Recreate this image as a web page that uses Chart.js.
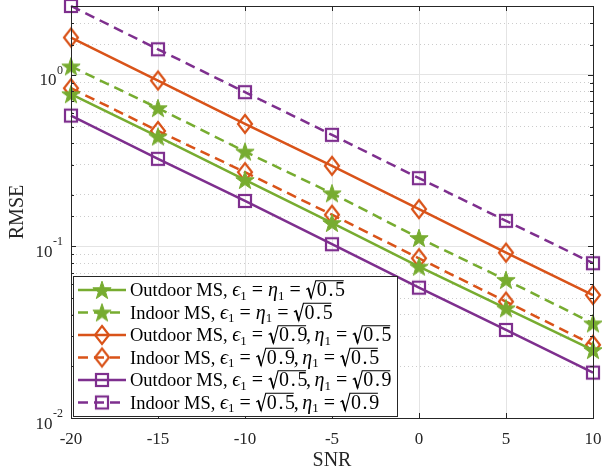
<!DOCTYPE html>
<html><head><meta charset="utf-8">
<script src="https://cdn.jsdelivr.net/npm/chart.js@4"></script>
<style>html,body{margin:0;padding:0;background:#fff}#wrap{width:602px;height:476px}</style>
</head><body><div id="wrap"><canvas id="c" width="602" height="476"></canvas></div>
<script>
// ---- data ----
const snr = [-20, -15, -10, -5, 0, 5, 10];
const outdoorA = [0.771, 0.437, 0.244, 0.137, 0.0762, 0.0436, 0.0249]; // eps=eta=sqrt0.5
const indoorA  = [1.12, 0.64, 0.357, 0.204, 0.112, 0.0638, 0.0356];
const outdoorB = [1.65, 0.927, 0.518, 0.295, 0.165, 0.092, 0.0521];   // eps=sqrt0.9, eta=sqrt0.5
const indoorB  = [0.836, 0.471, 0.271, 0.153, 0.0853, 0.0477, 0.0267];
const outdoorC = [0.579, 0.324, 0.184, 0.103, 0.0575, 0.0326, 0.0184]; // eps=sqrt0.5, eta=sqrt0.9
const indoorC  = [2.52, 1.41, 0.793, 0.447, 0.25, 0.141, 0.0798];
const xTicks = [-20, -15, -10, -5, 0, 5, 10];
const yMajor = [0.01, 0.1, 1];
const yExponents = ['-2', '-1', '0'];

const GREEN = '#77AC30', ORANGE = '#D95319', PURPLE = '#7E2F8E';
const FAM = "'Liberation Serif', 'Times New Roman', serif";
const AX = '#262626';

function makeStar(color){const c=document.createElement('canvas');c.width=24;c.height=24;const g=c.getContext('2d');g.beginPath();for(let k=0;k<10;k++){const r=k%2?3.8:9.6;const a=-Math.PI/2+k*Math.PI/5;g.lineTo(12+r*Math.cos(a),12.8+r*Math.sin(a));}g.closePath();g.fillStyle=color;g.fill();g.strokeStyle=color;g.lineWidth=1;g.lineJoin='miter';g.stroke();return c;}
function makeDiamond(color){const c=document.createElement('canvas');c.width=20;c.height=24;const g=c.getContext('2d');g.beginPath();g.moveTo(10,3);g.lineTo(17,12);g.lineTo(10,21);g.lineTo(3,12);g.closePath();g.strokeStyle=color;g.lineWidth=2.2;g.stroke();return c;}
function makeSquare(color){const c=document.createElement('canvas');c.width=18;c.height=18;const g=c.getContext('2d');g.strokeStyle=color;g.lineWidth=2.2;g.strokeRect(3,3,12,12);return c;}
const star = makeStar(GREEN), diamond = makeDiamond(ORANGE), square = makeSquare(PURPLE);

const DASH = [10, 6];
const LW = 2.5;
function ds(label, vals, color, marker, dashed){
  return {label, data: snr.map((x,i)=>({x, y: vals[i]})), borderColor: color, backgroundColor: color,
    borderWidth: LW, borderDash: dashed ? DASH : [], pointStyle: marker, pointRadius: 8,
    tension: 0, clip: 12, _marker: marker, _dashed: dashed};
}
const datasets = [
  ds('Outdoor A', outdoorA, GREEN, star, false),
  ds('Indoor A', indoorA, GREEN, star, true),
  ds('Outdoor B', outdoorB, ORANGE, diamond, false),
  ds('Indoor B', indoorB, ORANGE, diamond, true),
  ds('Outdoor C', outdoorC, PURPLE, square, false),
  ds('Indoor C', indoorC, PURPLE, square, true)
];

// legend rich text (m: math size)
const G = {gap: 5};
const E = {t:'ϵ', i:1, m:1}, H = {t:'η', i:1, m:1}, S1 = {t:'1', sub:1}, EQ = {t:'=', m:1}, CM = {t:',', m:1}, TH = {gap: 3.5};
const legendTexts = [
  [{t:'Outdoor MS, '}, E, S1, G, EQ, G, H, S1, G, EQ, G, {sqrt:'0.5'}],
  [{t:'Indoor MS, '}, E, S1, G, EQ, G, H, S1, G, EQ, G, {sqrt:'0.5'}],
  [{t:'Outdoor MS, '}, E, S1, G, EQ, G, {sqrt:'0.9'}, CM, TH, H, S1, G, EQ, G, {sqrt:'0.5'}],
  [{t:'Indoor MS, '}, E, S1, G, EQ, G, {sqrt:'0.9'}, CM, TH, H, S1, G, EQ, G, {sqrt:'0.5'}],
  [{t:'Outdoor MS, '}, E, S1, G, EQ, G, {sqrt:'0.5'}, CM, TH, H, S1, G, EQ, G, {sqrt:'0.9'}],
  [{t:'Indoor MS, '}, E, S1, G, EQ, G, {sqrt:'0.5'}, CM, TH, H, S1, G, EQ, G, {sqrt:'0.9'}]
];

function drawRich(ctx, x, y, segs, f, fm){
  ctx.fillStyle = '#000'; ctx.strokeStyle = '#000'; ctx.textBaseline = 'alphabetic'; ctx.textAlign = 'left';
  for (const s of segs){
    if (s.gap){ x += s.gap; continue; }
    if (s.sqrt){
      ctx.font = fm + 'px ' + FAM;
      const w = ctx.measureText(s.sqrt).width + 2;
      const r0 = 10; // radical width
      ctx.lineWidth = 1.1;
      ctx.beginPath();
      ctx.moveTo(x + 0.5, y - 6.5);
      ctx.lineTo(x + 2.6, y - 7.8);
      ctx.lineTo(x + 5.4, y + 2.2);
      ctx.lineTo(x + r0, y - 15.2);
      ctx.lineTo(x + r0 + w + 1, y - 15.2);
      ctx.stroke();
      ctx.lineWidth = 1.7;
      ctx.beginPath(); ctx.moveTo(x + 2.6, y - 7.8); ctx.lineTo(x + 5.4, y + 2.2); ctx.stroke();
      ctx.fillText(s.sqrt.split('').join(String.fromCharCode(8202)), x + r0 + 1, y);
      x += r0 + w + 1;
    } else if (s.sub){
      ctx.font = (0.7*f) + 'px ' + FAM;
      ctx.fillText(s.t, x, y + 0.2*f);
      x += ctx.measureText(s.t).width;
    } else {
      ctx.font = (s.i ? 'italic ' : '') + (s.m ? fm : f) + 'px ' + FAM;
      ctx.fillText(s.t, x, y);
      x += ctx.measureText(s.t).width;
    }
  }
  return x;
}

const boxPlugin = {
  id: 'boxLegend',
  afterDraw(chart){
    const ctx = chart.ctx, a = chart.chartArea;
    const xs = chart.scales.x, ys = chart.scales.y;
    ctx.save();
    // inward tick marks
    ctx.strokeStyle = AX; ctx.lineWidth = 1;
    ctx.beginPath();
    xs.ticks.forEach(t => { const p = Math.round(xs.getPixelForValue(t.value)) + 0.5;
      ctx.moveTo(p, a.bottom); ctx.lineTo(p, a.bottom - 5); ctx.moveTo(p, a.top); ctx.lineTo(p, a.top + 5); });
    ys.ticks.forEach(t => { if (t.value > ys.max - 1e-9) return; const p = Math.round(ys.getPixelForValue(t.value)) + 0.5;
      const L = yMajor.some(m => Math.abs(m - t.value) < 1e-12) ? 5 : 3;
      ctx.moveTo(a.left, p); ctx.lineTo(a.left + L, p); ctx.moveTo(a.right, p); ctx.lineTo(a.right - L, p); });
    ctx.stroke();
    // box
    ctx.strokeRect(Math.round(a.left) + 0.5, Math.round(a.top) + 0.5, Math.round(a.right - a.left), Math.round(a.bottom - a.top));
    // y tick labels with superscript exponents, placed through the y scale
    ctx.fillStyle = AX; ctx.textBaseline = 'alphabetic'; ctx.textAlign = 'right';
    yMajor.forEach((v, i) => {
      const p = ys.getPixelForValue(v);
      const xr = a.left - 8;
      ctx.font = '12px ' + FAM;
      const ew = ctx.measureText(yExponents[i]).width;
      ctx.fillText(yExponents[i], xr, p - 1);
      ctx.font = '17px ' + FAM;
      ctx.fillText('10', xr - ew - 0.5, p + 10.5);
    });
    // legend
    const L0 = a.left + 2, T0 = 276, W = 324, Hh = 140;
    ctx.fillStyle = '#fff'; ctx.fillRect(L0, T0, W, Hh);
    ctx.strokeStyle = AX; ctx.lineWidth = 1; ctx.strokeRect(L0 + 0.5, T0 + 0.5, W, Hh);
    chart.data.datasets.forEach((d, i) => {
      const cy = 290 + i * 22.5;
      ctx.save();
      ctx.strokeStyle = d.borderColor; ctx.lineWidth = LW; ctx.setLineDash(d._dashed ? DASH : []);
      ctx.beginPath(); ctx.moveTo(L0 + 5, cy); ctx.lineTo(L0 + 53, cy); ctx.stroke();
      ctx.restore();
      const m = d._marker; ctx.drawImage(m, L0 + 29 - m.width/2, cy - m.height/2);
      drawRich(ctx, L0 + 57, cy + 6, legendTexts[i], 18.5, 20);
    });
    ctx.restore();
  }
};

const isMajor = v => yMajor.some(m => Math.abs(m - v) < 1e-12);

new Chart(document.getElementById('c'), {
  type: 'line',
  data: { datasets },
  options: {
    responsive: false, animation: false, devicePixelRatio: 1,
    layout: { autoPadding: false, padding: { left: 0, right: 9, top: 6, bottom: 0 } },
    plugins: { legend: { display: false }, tooltip: { enabled: false } },
    scales: {
      x: {
        type: 'linear', min: -20, max: 10,
        afterBuildTicks: s => { s.ticks = xTicks.map(v => ({ value: v })); },
        afterFit: s => { s.height = 58; s.paddingLeft = 0; s.paddingRight = 0; s.paddingTop = 0; s.paddingBottom = 0; },
        ticks: { color: AX, font: { family: FAM, size: 17 }, padding: 11, maxRotation: 0, autoSkip: false,
          callback: v => String(v) },
        grid: { color: '#e4e4e4', lineWidth: 1, drawTicks: false },
        border: { display: true, color: AX },
        title: { display: true, text: 'SNR', color: AX, font: { family: FAM, size: 20 }, padding: { top: 0, bottom: 3 } }
      },
      y: {
        type: 'logarithmic', min: 0.01, max: 2.52,
        afterFit: s => { s.width = 71; s.paddingLeft = 0; s.paddingRight = 0; s.paddingTop = 0; s.paddingBottom = 0; },
        ticks: { display: false, autoSkip: false },
        grid: { drawTicks: false, lineWidth: 1,
          color: c => { if (!c.tick) return '#e4e4e4'; if (c.tick.value > 2.5) return 'rgba(0,0,0,0)'; return isMajor(c.tick.value) ? '#e4e4e4' : '#cccccc'; } },
        border: { display: true, color: AX, dash: c => (c.tick && !isMajor(c.tick.value)) ? [1, 3] : [] },
        title: { display: true, text: 'RMSE', color: AX, font: { family: FAM, size: 20 }, padding: { top: 6, bottom: 0 } }
      }
    }
  },
  plugins: [boxPlugin]
});
</script></body></html>
